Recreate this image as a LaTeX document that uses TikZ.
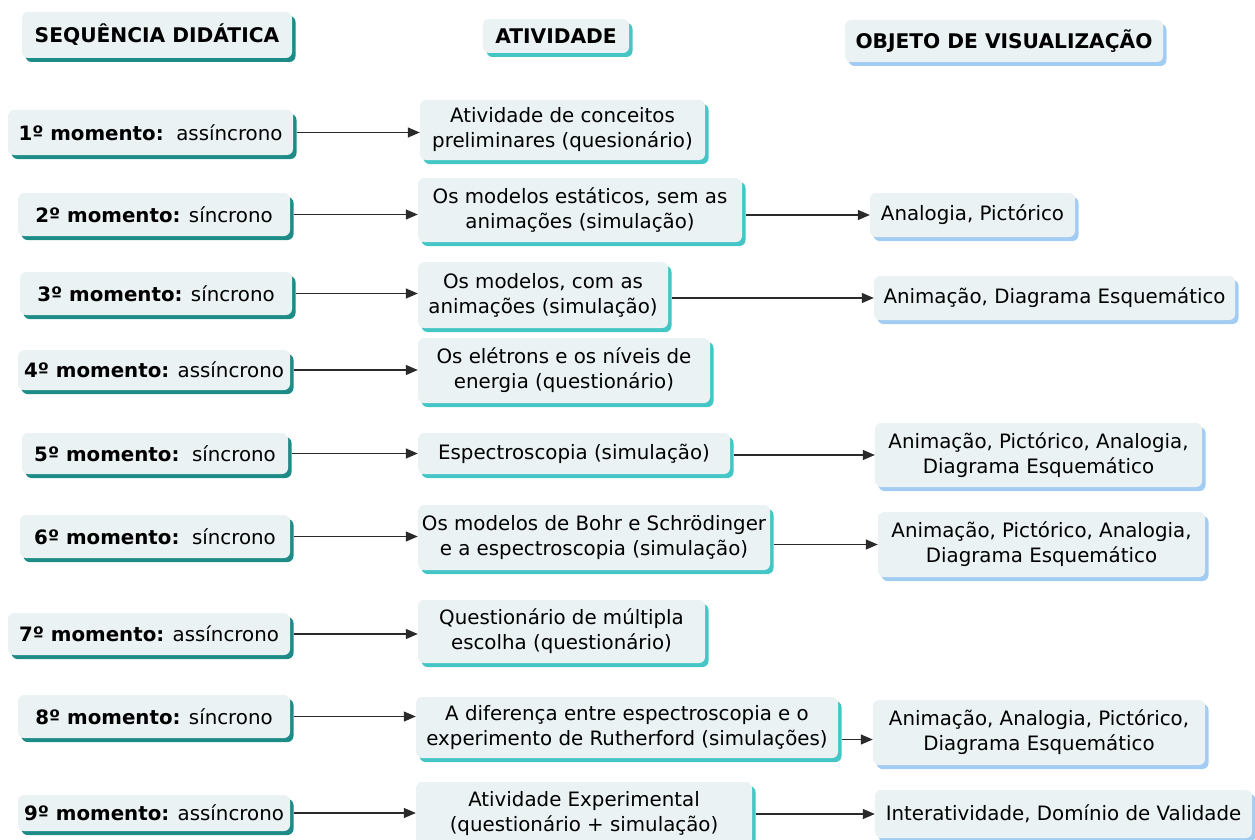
\documentclass[tikz,border=0pt]{standalone}
\usepackage{fontspec}
\setmainfont{DejaVu Sans}
\usetikzlibrary{arrows.meta,shadows}
\definecolor{boxfill}{HTML}{EBF2F4}
\definecolor{shL}{HTML}{1E8C86}
\definecolor{shA}{HTML}{45C6C6}
\definecolor{shR}{HTML}{A3CCF2}
\definecolor{arr}{HTML}{2A2A2A}
\tikzset{
  box/.style={fill=boxfill, rounded corners=6pt, align=center, inner sep=0pt,
    font=\fontsize{19.8}{25}\selectfont},
  lbox/.style={box, drop shadow={shadow xshift=3.5pt, shadow yshift=-4pt, fill=shL, opacity=1}},
  abox/.style={box, drop shadow={shadow xshift=3.5pt, shadow yshift=-4pt, fill=shA, opacity=1}},
  rbox/.style={box, drop shadow={shadow xshift=3.5pt, shadow yshift=-4pt, fill=shR, opacity=1}},
  hd/.style={font=\fontsize{20.2}{25}\selectfont\bfseries},
  conn/.style={draw=arr, line width=1.2pt, -{Triangle[length=12pt,width=10pt]}, shorten <=3.5pt}
}
\begin{document}
\begin{tikzpicture}[x=1pt,y=1pt]
\useasboundingbox (0,0) rectangle (1255,-840);
% headers
\node[lbox, hd, minimum width=270, minimum height=46] (hS) at (157,-35) {SEQUÊNCIA DIDÁTICA};
\node[abox, hd, minimum width=146, minimum height=34] (hA) at (556,-36) {ATIVIDADE};
\node[rbox, hd, minimum width=318, minimum height=42] (hO) at (1004,-41) {OBJETO DE VISUALIZAÇÃO};
% left column
\node[lbox, minimum width=285, minimum height=45] (l1) at (150.5,-132.5) {\textbf{1º momento:}\ \ assíncrono};
\node[lbox, minimum width=272, minimum height=43] (l2) at (154,-214.5) {\textbf{2º momento:} síncrono};
\node[lbox, minimum width=272, minimum height=43] (l3) at (156,-293.5) {\textbf{3º momento:} síncrono};
\node[lbox, minimum width=272, minimum height=40] (l4) at (154,-370) {\textbf{4º momento:} assíncrono};
\node[lbox, minimum width=266, minimum height=41] (l5) at (155,-453.5) {\textbf{5º momento:}\ \ síncrono};
\node[lbox, minimum width=270, minimum height=43] (l6) at (155,-536.5) {\textbf{6º momento:}\ \ síncrono};
\node[lbox, minimum width=282, minimum height=42] (l7) at (149,-634) {\textbf{7º momento:} assíncrono};
\node[lbox, minimum width=272, minimum height=43] (l8) at (154,-716.5) {\textbf{8º momento:} síncrono};
\node[lbox, minimum width=272, minimum height=36] (l9) at (154,-813) {\textbf{9º momento:} assíncrono};
% activity column
\node[abox, minimum width=285, minimum height=60] (a1) at (562.5,-130) {Atividade de conceitos\\preliminares (quesionário)};
\node[abox, minimum width=324, minimum height=64] (a2) at (580,-210) {Os modelos estáticos, sem as\\animações (simulação)};
\node[abox, minimum width=250, minimum height=66] (a3) at (543,-295) {Os modelos, com as\\animações (simulação)};
\node[abox, minimum width=292, minimum height=65] (a4) at (564,-370.5) {Os elétrons e os níveis de\\energia (questionário)};
\node[abox, minimum width=312, minimum height=41] (a5) at (574,-453.5) {Espectroscopia (simulação)};
\node[abox, minimum width=352, minimum height=65] (a6) at (594,-537.5) {Os modelos de Bohr e Schrödinger\\e a espectroscopia (simulação)};
\node[abox, minimum width=287, minimum height=63] (a7) at (561.5,-631.5) {Questionário de múltipla\\escolha (questionário)};
\node[abox, minimum width=422, minimum height=61] (a8) at (627,-727.5) {A diferença entre espectroscopia e o\\experimento de Rutherford (simulações)};
\node[abox, minimum width=336, minimum height=63] (a9) at (584,-813.5) {Atividade Experimental\\(questionário + simulação)};
% right column
\node[rbox, minimum width=205, minimum height=44] (r2) at (972.5,-215) {Analogia, Pictórico};
\node[rbox, minimum width=361, minimum height=44] (r3) at (1054.5,-298) {Animação, Diagrama Esquemático};
\node[rbox, minimum width=327, minimum height=64] (r5) at (1038.5,-455) {Animação, Pictórico, Analogia,\\Diagrama Esquemático};
\node[rbox, minimum width=327, minimum height=65] (r6) at (1041.5,-544.5) {Animação, Pictórico, Analogia,\\Diagrama Esquemático};
\node[rbox, minimum width=332, minimum height=65] (r8) at (1039,-732.5) {Animação, Analogia, Pictórico,\\Diagrama Esquemático};
\node[rbox, minimum width=377, minimum height=48] (r9) at (1063.5,-814) {Interatividade, Domínio de Validade};
% connectors left -> activity
\foreach \i in {1,...,9} {
  \draw[conn] (l\i.east) -- (l\i.east -| a\i.west);
}
% connectors activity -> right
\foreach \i in {2,3,5,6,9} {
  \draw[conn] (r\i.west -| a\i.east) -- (r\i.west);
}
\draw[conn] ([yshift=-12pt]a8.east) -- ([yshift=-12pt]a8.east -| r8.west);
\end{tikzpicture}
\end{document}
